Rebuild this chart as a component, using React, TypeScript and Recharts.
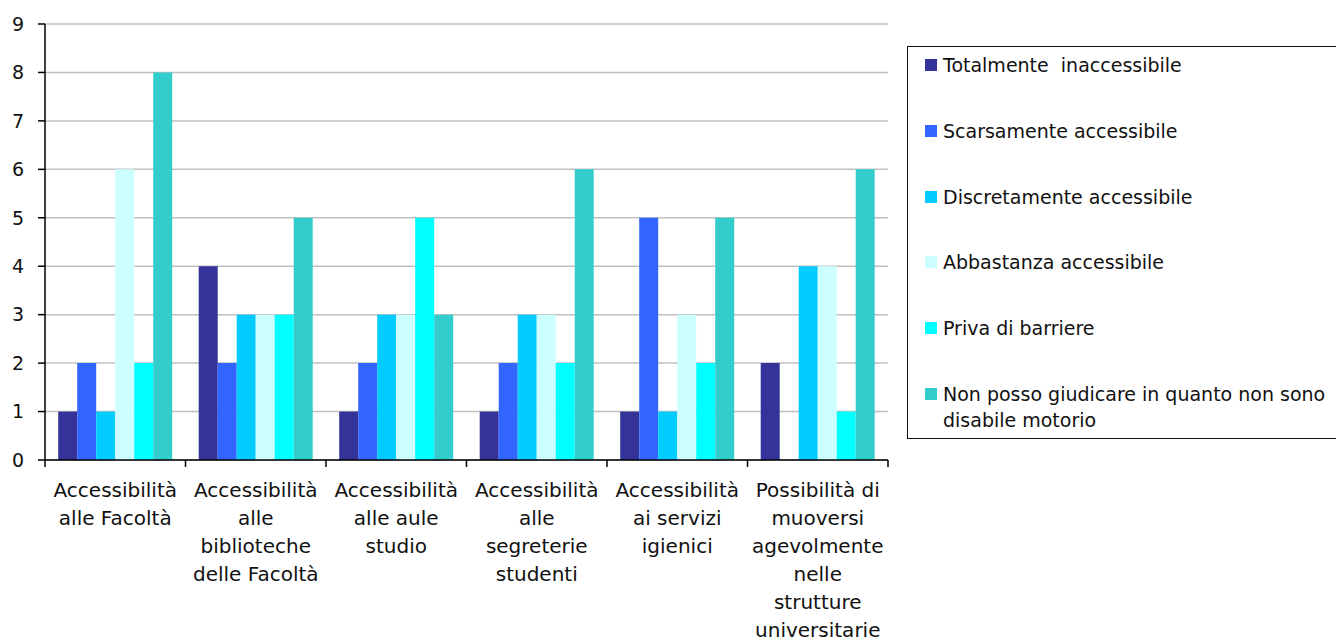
import React from 'react';
import { BarChart, Bar, XAxis, YAxis, CartesianGrid } from 'recharts';

// categories on the x axis, "\n" marks the line breaks used in the original
const categories = [
  'Accessibilità\nalle Facoltà',
  'Accessibilità\nalle\nbiblioteche\ndelle Facoltà',
  'Accessibilità\nalle aule\nstudio',
  'Accessibilità\nalle\nsegreterie\nstudenti',
  'Accessibilità\nai servizi\nigienici',
  'Possibilità di\nmuoversi\nagevolmente\nnelle\nstrutture\nuniversitarie',
];

const seriesNames = [
  'Totalmente  inaccessibile',
  'Scarsamente accessibile',
  'Discretamente accessibile',
  'Abbastanza accessibile',
  'Priva di barriere',
  'Non posso giudicare in quanto non sono disabile motorio',
];

const seriesColors = ['#333399', '#3366FF', '#00CCFF', '#CCFFFF', '#00FFFF', '#33CCCC'];

const totalmente = [1, 4, 1, 1, 1, 2];
const scarsamente = [2, 2, 2, 2, 5, 0];
const discretamente = [1, 3, 3, 3, 1, 4];
const abbastanza = [6, 3, 3, 3, 3, 4];
const priva = [2, 3, 5, 2, 2, 1];
const nonPosso = [8, 5, 3, 6, 5, 6];

const seriesValues = [totalmente, scarsamente, discretamente, abbastanza, priva, nonPosso];
const yTicks = [0, 1, 2, 3, 4, 5, 6, 7, 8, 9];

const data = categories.map((name, i) => {
  const row: Record<string, string | number> = { name };
  seriesValues.forEach((vals, s) => {
    row['s' + s] = vals[i];
  });
  return row;
});

const W = 1336;
const H = 641;
const PLOT_LEFT = 45;
const PLOT_RIGHT = 888;
const FONT = '"DejaVu Sans", Verdana, sans-serif';
const BAND = (PLOT_RIGHT - PLOT_LEFT) / categories.length;

const XTick = (props: any) => {
  const { x, y, payload, index } = props;
  const lines = String(payload.value).split('\n');
  return (
    <g>
      <line x1={x - BAND / 2} x2={x - BAND / 2} y1={y - 7} y2={y} stroke="#000" strokeWidth={1.5} />
      {index === categories.length - 1 && (
        <line x1={x + BAND / 2} x2={x + BAND / 2} y1={y - 7} y2={y} stroke="#000" strokeWidth={1.5} />
      )}
      <text x={x} y={y + 30} textAnchor="middle" fontSize={20} fontFamily={FONT} fill="#111">
        {lines.map((l, i) => (
          <tspan key={i} x={x} dy={i === 0 ? 0 : 28}>
            {l}
          </tspan>
        ))}
      </text>
    </g>
  );
};

const Legend = () => (
  <div
    style={{
      position: 'absolute',
      left: 907,
      top: 46,
      width: 440,
      height: 393,
      border: '1.5px solid #111',
      boxSizing: 'border-box',
      fontFamily: FONT,
      fontSize: 19,
      color: '#111',
    }}
  >
    {seriesNames.map((n, i) => (
      <div
        key={n}
        style={{ position: 'absolute', left: 17, top: 5 + i * 65.8, display: 'flex', alignItems: 'flex-start' }}
      >
        <div style={{ width: 12, height: 12, background: seriesColors[i], marginTop: 7, marginRight: 6 }} />
        <div style={{ width: 392, lineHeight: '26px', whiteSpace: 'pre-wrap' }}>{n}</div>
      </div>
    ))}
  </div>
);

export default function App() {
  return (
    <div style={{ position: 'absolute', left: 0, top: 0, width: W, height: H, overflow: 'hidden', background: '#fff' }}>
      <BarChart
        width={W}
        height={H}
        data={data}
        margin={{ top: 24, right: W - PLOT_RIGHT, bottom: 0, left: 0 }}
        barCategoryGap="9.4%"
        barGap={0}
      >
        <CartesianGrid vertical={false} stroke="#c0c0c0" strokeWidth={1.5} />
        <XAxis
          dataKey="name"
          height={H - 460}
          interval={0}
          tickLine={false}
          tickSize={7}
          tickMargin={0}
          axisLine={{ stroke: '#000', strokeWidth: 1.5 }}
          tick={<XTick />}
        />
        <YAxis
          width={PLOT_LEFT}
          domain={[0, 9]}
          ticks={yTicks}
          interval={0}
          tickSize={7}
          tickMargin={14}
          axisLine={{ stroke: '#000', strokeWidth: 1.5 }}
          tickLine={{ stroke: '#000', strokeWidth: 1.5 }}
          tick={{ fontSize: 19, fontFamily: FONT, fill: '#111' }}
        />
        {seriesNames.map((n, i) => (
          <Bar key={n} dataKey={'s' + i} name={n} fill={seriesColors[i]} isAnimationActive={false} />
        ))}
      </BarChart>
      <Legend />
    </div>
  );
}
